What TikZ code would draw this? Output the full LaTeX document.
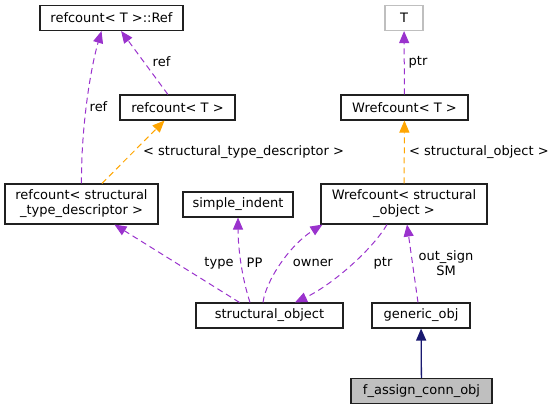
\documentclass[tikz,border=0pt]{standalone}
\usepackage{fontspec}
\setmainfont{DejaVu Sans}
\usetikzlibrary{arrows.meta,calc}
\definecolor{depcol}{HTML}{9A32CD}
\definecolor{tplcol}{HTML}{FFA500}
\definecolor{inhcol}{HTML}{191970}
\definecolor{boxcol}{HTML}{202020}
\definecolor{grayfill}{HTML}{BFBFBF}
\begin{document}
\begin{tikzpicture}
    [x=1pt, y=-1pt,
    font=\fontsize{13}{15}\selectfont,
    cls/.style={draw=boxcol, line width=1.1pt, fill=white, inner sep=0pt,
      minimum height=25pt, align=center},
    tall/.style={cls, minimum height=40pt},
    lbl/.style={inner sep=0pt, align=center},
    dep/.style={draw=depcol, line width=1pt, dash pattern=on 6pt off 4pt,
      -{Triangle[length=12pt,width=10pt]}},
    tpl/.style={dep, draw=tplcol},
    inh/.style={draw=inhcol, line width=1.3pt,
      -{Triangle[length=12pt,width=10pt]}}]
    \useasboundingbox (0,0) rectangle (554,411);
    % classes
    \node[cls, minimum width=143pt] (ref) at (111.5,18) {refcount< T >::Ref};
    \node[cls, minimum width=115pt] (reft) at (177.5,107.5) {refcount< T >};
    \node[cls, draw=grayfill, minimum width=38pt] (T) at (404,18) {T};
    \node[cls, minimum width=127pt] (wreft) at (404.5,107.5) {Wrefcount< T >};
    \node[tall, minimum width=153pt] (refstd) at (81.5,204)
      {refcount< structural\\\_type\_descriptor >};
    \node[cls, minimum width=110pt] (indent) at (238,204.5) {simple\_indent};
    \node[tall, minimum width=166pt] (wrefso) at (404,204)
      {Wrefcount< structural\\\_object >};
    \node[cls, minimum width=147pt] (so) at (269.5,315.5) {structural\_object};
    \node[cls, minimum width=98pt] (gen) at (421,315.5) {generic\_obj};
    \node[cls, fill=grayfill, minimum width=141pt] (fac) at (421.5,391)
      {f\_assign\_conn\_obj};
    % usage and template edges
    \draw[dep] (reft) -- (ref);
    \draw[dep] (refstd.north) .. controls (81,130) and (90,70)
      .. ($(ref.south)+(-10,0)$);
    \draw[tpl] (refstd) -- (reft);
    \draw[tpl] (wrefso) -- (wreft);
    \draw[dep] (wreft) -- (T);
    \draw[dep] ($(so.north)+(-30,0)$) -- (refstd);
    \draw[dep] ($(so.north)+(-19.5,0)$) .. controls (241,275) and (238,245)
      .. (indent.south);
    \draw[dep] ($(so.north)+(-6.5,0)$) .. controls (266,280) and (290,245)
      .. ($(wrefso.south west)+(2,0)$);
    \draw[dep] ($(wrefso.south)+(-17,0)$) .. controls (372,250) and (332,285)
      .. ($(so.north)+(25.5,0)$);
    \draw[dep] ($(gen.north)+(-3,0)$) -- ($(wrefso.south)+(3,0)$);
    \draw[inh] (fac) -- (gen);
    % edge labels
    \node[lbl] (lref1) at (161.5,62) {ref};
    \node[lbl] (lref2) at (98.5,107) {ref};
    \node[lbl, anchor=west] (lstd) at (143,152) {< structural\_type\_descriptor >};
    \node[lbl, anchor=west] (lso) at (409,152) {< structural\_object >};
    \node[lbl] (lptrt) at (418,62) {ptr};
    \node[lbl] (ltype) at (219,263) {type};
    \node[lbl] (lpp) at (254.5,263) {PP};
    \node[lbl] (lowner) at (313,263) {owner};
    \node[lbl] (lptr) at (383,263) {ptr};
    \node[lbl] (lsign) at (446,263) {out\_sign\\SM};
\end{tikzpicture}
\end{document}
